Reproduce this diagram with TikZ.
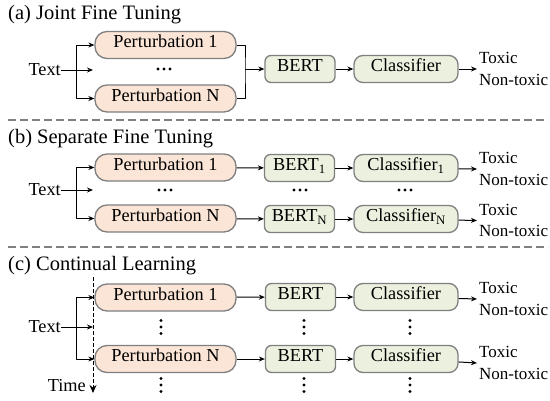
\documentclass[tikz,border=0pt]{standalone}
\usepackage{fontspec}
\setmainfont{Liberation Serif}
\usetikzlibrary{arrows.meta}
\definecolor{pertfill}{HTML}{FBE5D6}
\definecolor{greenfill}{HTML}{EBF1DE}
\definecolor{boxline}{HTML}{7F7F7F}
\begin{document}
\begin{tikzpicture}[x=1pt, y=-1pt, >={Stealth[length=6pt,width=5pt]}, line join=round,
	every node/.style={font=\fontsize{18.3}{22}\selectfont},
	box/.style={draw=boxline, line width=1.3pt, minimum height=27pt, text height=0.72em, text depth=0.22em, inner sep=0pt},
	pert/.style={box, fill=pertfill, minimum width=141pt, rounded corners=12pt},
	bert/.style={box, fill=greenfill, minimum width=70pt, rounded corners=6pt},
	clf/.style={box, fill=greenfill, minimum width=104pt, rounded corners=9pt},
	title/.style={anchor=base west, inner sep=0pt, font=\fontsize{20.5}{24}\selectfont},
	lbl/.style={anchor=east, inner sep=0pt},
	outp/.style={anchor=west, align=left, inner sep=2pt, font=\fontsize{17}{21.5}\selectfont},
	sep/.style={draw=gray, line width=2pt, dash pattern=on 8pt off 4pt},
	link/.style={line width=1pt}]
	\useasboundingbox (0,0) rectangle (550,400);
	% (a)
	\node[title] (ta) at (8,19.5) {(a) Joint Fine Tuning};
	\node[lbl] (xa) at (61,70) {Text};
	\node[pert] (pa1) at (165.5,45) {Perturbation 1};
	\node[pert] (pan) at (165.5,98.5) {Perturbation N};
	\node[bert] (ba) at (300,69) {BERT};
	\node[clf] (ca) at (406,69) {Classifier};
	\node[outp] (oa) at (477,69) {Toxic\\Non-toxic};
	\path (76,70) coordinate (ka) (93,70) coordinate (ma) (245,69) coordinate (ja);
	\draw[link] (xa.east) -- (ka);
	\draw[link,->] (ka) |- (pa1.west);
	\draw[link,->] (ka) |- (pan.west);
	\draw[link,->] (ka) -- (ma);
	\draw[link] (pa1.east) -| (ja) |- (pan.east);
	\draw[link,->] (ja) -- (ba.west);
	\draw[link,->] (ba) -- (ca);
	\draw[link,->] (ca) -- (oa.west);
	\foreach \d in {-6,0,6} \fill (164+\d,69) circle (1.6pt);
	\draw[sep] (8,119.5) -- (548,119.5);
	% (b)
	\node[title] (tb) at (8,143) {(b) Separate Fine Tuning};
	\node[lbl] (xb) at (61,190) {Text};
	\node[pert] (pb1) at (165.5,167.5) {Perturbation 1};
	\node[pert] (pbn) at (165.5,218.5) {Perturbation N};
	\node[bert] (bb1) at (299.5,168) {BERT\textsubscript{1}};
	\node[bert] (bbn) at (299.5,219) {BERT\textsubscript{N}};
	\node[clf] (cb1) at (406,168) {Classifier\textsubscript{1}};
	\node[clf] (cbn) at (406,219) {Classifier\textsubscript{N}};
	\node[outp] (ob1) at (477,169) {Toxic\\Non-toxic};
	\node[outp] (obn) at (477,220.5) {Toxic\\Non-toxic};
	\path (76,190) coordinate (kb) (93,190) coordinate (mb);
	\draw[link] (xb.east) -- (kb);
	\draw[link,->] (kb) |- (pb1.west);
	\draw[link,->] (kb) |- (pbn.west);
	\draw[link,->] (kb) -- (mb);
	\foreach \a/\b/\c/\o in {pb1/bb1/cb1/ob1, pbn/bbn/cbn/obn}{
		\draw[link,->] (\a) -- (\b);
		\draw[link,->] (\b) -- (\c);
		\draw[link,->] (\c) -- (\o.west);
	}
	\foreach \x in {165,300,405}
		\foreach \d in {-6,0,6} \fill (\x+\d,190) circle (1.6pt);
	\draw[sep] (8,247) -- (548,247);
	% (c)
	\node[title] (tc) at (8,270) {(c) Continual Learning};
	\node[lbl] (xc) at (61,327) {Text};
	\node[pert] (pc1) at (165.5,297.5) {Perturbation 1};
	\node[pert] (pcn) at (165.5,359) {Perturbation N};
	\node[bert] (bc1) at (300.5,297) {BERT};
	\node[bert] (bcn) at (300.5,359) {BERT};
	\node[clf] (cc1) at (406,297) {Classifier};
	\node[clf] (ccn) at (406,359) {Classifier};
	\node[outp] (oc1) at (477,299) {Toxic\\Non-toxic};
	\node[outp] (ocn) at (477,363) {Toxic\\Non-toxic};
	\node[lbl] (tm) at (86,386) {Time};
	\path (76,327) coordinate (kc) (93,327) coordinate (mc)
		(93,277) coordinate (s0) (93,393) coordinate (s1);
	\draw[link] (xc.east) -- (kc);
	\draw[link,->] (kc) |- (pc1.west);
	\draw[link,->] (kc) |- (pcn.west);
	\draw[link,->] (kc) -- (mc);
	\foreach \a/\b/\c/\o in {pc1/bc1/cc1/oc1, pcn/bcn/ccn/ocn}{
		\draw[link,->] (\a) -- (\b);
		\draw[link,->] (\b) -- (\c);
		\draw[link,->] (\c) -- (\o.west);
	}
	\draw[link, dash pattern=on 4pt off 2pt, -{Stealth[length=8pt,width=7pt]}] (s0) -- (s1);
	\foreach \x in {161,304,410}
		\foreach \y in {327,385}
			\foreach \d in {-6.5,0,6.5} \fill (\x,\y+\d) circle (1.6pt);
\end{tikzpicture}
\end{document}
